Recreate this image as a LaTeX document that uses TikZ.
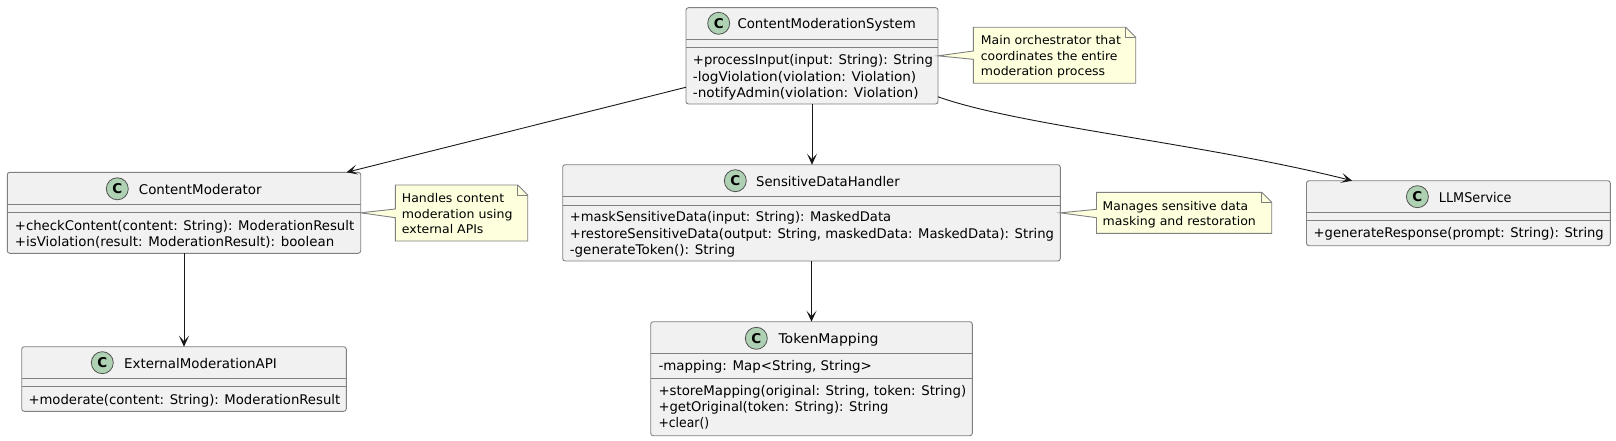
\documentclass[tikz,border=0pt]{standalone}
\usepackage{fontspec}
\usepackage{graphicx}
\usetikzlibrary{arrows.meta,calc}
\setmainfont{DejaVu Sans}
\definecolor{boxfill}{HTML}{F1F1F1}
\definecolor{boxline}{HTML}{808080}
\definecolor{notefill}{HTML}{FEFFDD}
\definecolor{iconfill}{HTML}{ADD1B2}
\definecolor{ink}{HTML}{181818}
\newcommand{\fitw}[2]{\resizebox{#1pt}{\height}{#2}}
\tikzset{
  classbox/.style={draw=boxline,fill=boxfill,line width=0.9pt,rounded corners=2.5pt,inner sep=0pt,outer sep=0pt},
  divider/.style={draw=boxline,line width=0.9pt},
  icon/.style={circle,draw=ink!75,fill=iconfill,line width=0.8pt,minimum size=22pt,inner sep=0pt,font=\fontsize{13.5}{13.5}\selectfont\bfseries},
  titletext/.style={anchor=base west,inner sep=0pt,text=black,font=\fontsize{13.4}{15}\selectfont},
  membertext/.style={anchor=base west,inner sep=0pt,text=black,font=\fontsize{13.3}{15}\selectfont},
  notetext/.style={anchor=base west,inner sep=0pt,text=black,font=\fontsize{12}{15}\selectfont},
  notebody/.style={draw=boxline,fill=notefill,line width=0.9pt,line join=miter},
  link/.style={draw=ink,line width=0.9pt,-{Stealth[length=11pt,width=10pt,inset=5.5pt]}},
}
% name, x1, y1, x2, y2, divider 1, divider 2
\newcommand{\umlclass}[7]{%
  \node[classbox,minimum width=#4pt-#2pt,minimum height=#5pt-#3pt] (#1) at ({(#2+#4)/2},{(#3+#5)/2}) {};
  \draw[divider] (#2,#6) -- (#4,#6);
  \draw[divider] (#2,#7) -- (#4,#7);
}
% x1,y1,x2,y2,tip,wedge y1,wedge y2
\newcommand{\umlnote}[7]{%
  \path[notebody] (#1,#2) -- ({#3-10},#2) -- (#3,{#2+10}) -- (#3,#4) -- (#1,#4) -- (#1,#7) -- (#5) -- (#1,#6) -- cycle;
  \draw[notebody,fill=none] ({#3-10},#2) -- ({#3-10},{#2+10}) -- (#3,{#2+10});
}
\begin{document}
\begin{tikzpicture}[x=1pt,y=-1pt]
\useasboundingbox (0,0) rectangle (1616,441);
\fill[white] (0,0) rectangle (1616,441);

\umlclass{cms}{686}{7.7}{938}{104}{39.5}{47.7}
\umlclass{cm}{7.3}{172.3}{360.7}{253.3}{204.3}{212.7}
\umlclass{sdh}{562.7}{164.7}{1060.3}{261}{196.7}{205}
\umlclass{tm}{650.7}{321.7}{972.3}{435.7}{353.3}{378.3}
\umlclass{ema}{21.7}{346.7}{346.3}{411.3}{378.3}{386.7}
\umlclass{llm}{1306.5}{180.7}{1610.3}{245.7}{212.3}{220.7}

\umlnote{973.3}{27.3}{1135.7}{83.3}{cms.east}{51}{59.3}
\umlnote{395.3}{185}{527.7}{241}{cm.east}{209}{217.7}
\umlnote{1096.5}{192.3}{1271.7}{233.3}{sdh.east}{209.3}{217.7}

\node[icon] (icms) at (718.7,23.3) {C};
\node[icon] (icm) at (117.3,188.8) {C};
\node[icon] (isdh) at (735.3,180.7) {C};
\node[icon] (itm) at (756.3,338.3) {C};
\node[icon] (iema) at (102.3,362.7) {C};
\node[icon] (illm) at (1417.4,196.7) {C};

\node[titletext] (tcms) at (737.3,29) {\fitw{178.4}{ContentModerationSystem}};
\node[titletext] (tcm) at (138.7,194.2) {\fitw{122.6}{ContentModerator}};
\node[titletext] (tsdh) at (756,186.2) {\fitw{143.5}{SensitiveDataHandler}};
\node[titletext] (ttm) at (778.3,343.8) {\fitw{100}{TokenMapping}};
\node[titletext] (tema) at (124,368.2) {\fitw{152.7}{ExternalModerationAPI}};
\node[titletext] (tllm) at (1438.7,202.2) {\fitw{72.7}{LLMService}};

\node[membertext] (m1) at (692.7,65) {\fitw{240}{+processInput(input: String): String}};
\node[membertext] (m2) at (692.7,81.3) {\fitw{223.3}{-logViolation(violation: Violation)}};
\node[membertext] (m3) at (692.7,97.7) {\fitw{225.7}{-notifyAdmin(violation: Violation)}};
\node[membertext] (m4) at (14.7,230) {\fitw{339.3}{+checkContent(content: String): ModerationResult}};
\node[membertext] (m5) at (14.7,246.7) {\fitw{319.3}{+isViolation(result: ModerationResult): boolean}};
\node[membertext] (m6) at (569.6,221.7) {\fitw{321.3}{+maskSensitiveData(input: String): MaskedData}};
\node[membertext] (m7) at (569.6,238) {\fitw{484.2}{+restoreSensitiveData(output: String, maskedData: MaskedData): String}};
\node[membertext] (m8) at (569.6,254.7) {\fitw{165.3}{-generateToken(): String}};
\node[membertext] (m9) at (658.3,370.7) {\fitw{213.4}{-mapping: Map<String, String>}};
\node[membertext] (m10) at (658.3,395.3) {\fitw{307.7}{+storeMapping(original: String, token: String)}};
\node[membertext] (m11) at (658.3,411.7) {\fitw{230}{+getOriginal(token: String): String}};
\node[membertext] (m12) at (658.3,427.7) {\fitw{50.7}{+clear()}};
\node[membertext] (m13) at (28.3,404) {\fitw{311.7}{+moderate(content: String): ModerationResult}};
\node[membertext] (m14) at (1313.5,237.7) {\fitw{290.1}{+generateResponse(prompt: String): String}};

\node[notetext] (n1) at (980.7,45) {\fitw{140}{Main orchestrator that}};
\node[notetext] (n2) at (980.7,60.3) {\fitw{136.6}{coordinates the entire}};
\node[notetext] (n3) at (980.7,75.7) {\fitw{124.3}{moderation process}};
\node[notetext] (n4) at (401.7,202.7) {\fitw{102.3}{Handles content}};
\node[notetext] (n5) at (401.7,218) {\fitw{110.6}{moderation using}};
\node[notetext] (n6) at (401.7,233.3) {\fitw{81.6}{external APIs}};
\node[notetext] (n7) at (1102.5,210) {\fitw{145.5}{Manages sensitive data}};
\node[notetext] (n8) at (1102.5,225.7) {\fitw{153.2}{masking and restoration}};

\draw[link] (cms.194.2) -- (cm.14.1);
\draw[link] (cms.south) -- (cms.south |- sdh.north);
\draw[link] (cms.-18.8) .. controls (1020,126) and (1202,143) .. (llm.163.1);
\draw[link] (sdh.south) -- (sdh.south |- tm.north);
\draw[link] (cm.south) -- (cm.south |- ema.north);
\end{tikzpicture}
\end{document}
